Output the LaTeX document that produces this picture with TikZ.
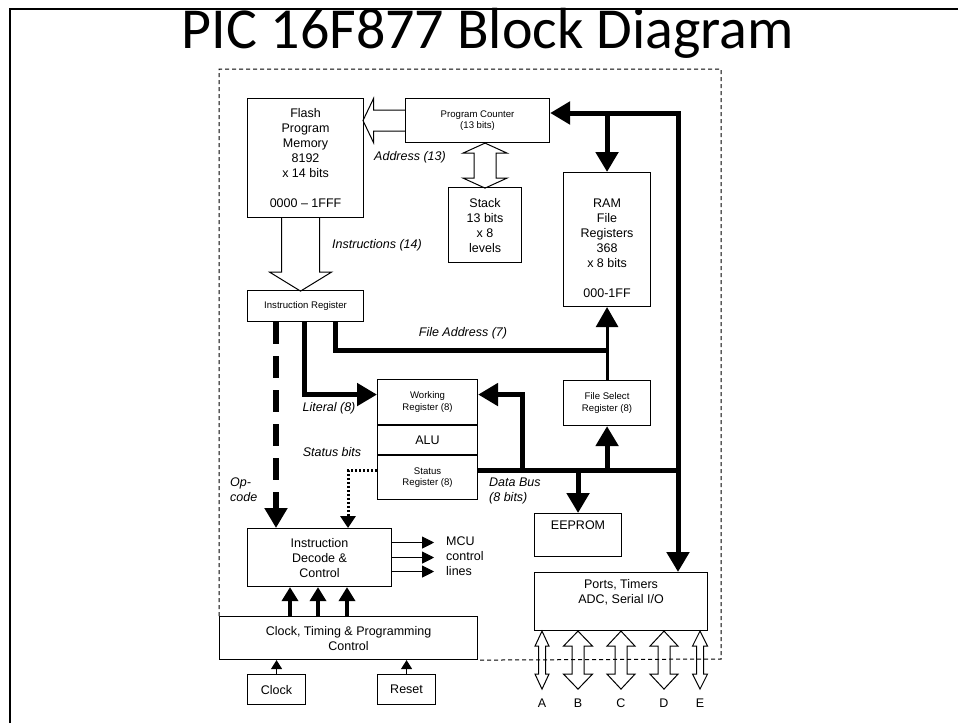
\documentclass[tikz,border=0pt]{standalone}
\usepackage{fontspec}
\setmainfont{Liberation Sans}
\newfontfamily\titlefont{Carlito}
\usetikzlibrary{arrows.meta,positioning,calc}

% hollow two-headed block arrow, drawn downwards from its top tip
\newcommand\dblarrow[5]{%
  \pgfmathsetmacro\arrshaft{#2-2*#5}%
  \pgfmathsetmacro\arrshoulder{#4-#3}%
  \draw[hollow] #1 -- ++(#4,#5) -- ++(-\arrshoulder,0) -- ++(0,\arrshaft)
    -- ++(\arrshoulder,0) -- ++(-#4,#5) -- ++(-#4,-#5) -- ++(\arrshoulder,0)
    -- ++(0,-\arrshaft) -- ++(-\arrshoulder,0) -- cycle;}

\begin{document}
\begin{tikzpicture}[x=1pt,y=-1pt,font=\fontsize{12.5}{15}\selectfont,
  box/.style={draw,line width=1.1pt,align=center,inner sep=0pt,anchor=north west},
  small/.style={font=\fontsize{9.6}{11.5}\selectfont},
  lbl/.style={font=\fontsize{12.5}{15}\selectfont\itshape,align=left,inner sep=0pt},
  hollow/.style={draw,line width=1pt,line join=miter},
  bus/.style={line width=5pt,>={Triangle[length=20pt,width=22pt]}},
  ctrl/.style={line width=4pt,-{Triangle[length=14pt,width=16pt]}},
  mcu/.style={line width=0.9pt,-{Triangle[length=12pt,width=12pt]}},
  pin/.style={line width=1.2pt,-{Triangle[length=9pt,width=11pt]}},
  boundary/.style={line width=1pt,dash pattern=on 4pt off 3pt}]
\useasboundingbox (0,0) rectangle (958,723);
\draw[line width=2.5pt] (10,723) -- (10,9) -- (958,9);
\node[anchor=base,font=\titlefont\fontsize{58}{58}\selectfont] (title) at (488,48)
  {PIC 16F877 Block Diagram};

% blocks
\node[box,minimum width=116,minimum height=119] (flash) at (247,98)
  {Flash\\Program\\Memory\\8192\\x 14 bits\\[15pt]0000 -- 1FFF};
\node[box,small,minimum width=144,minimum height=44] (pc) at (405,98)
  {Program Counter\\(13 bits)};
\node[box,minimum width=73,minimum height=75] (stack) at (448,187)
  {Stack\\13 bits\\x 8\\levels};
\node[box,minimum width=87,minimum height=134] (ram) at (563,172)
  {\strut\\RAM\\File\\Registers\\368\\x 8 bits\\[15pt]000-1FF};
\node[box,small,minimum width=116,minimum height=31] (ir) at (247,290)
  {Instruction Register};
\node[box,small,minimum width=100,minimum height=45] (wreg) at (377,379)
  {Working\\Register (8)};
\node[box,minimum width=100,minimum height=29,below=0pt of wreg] (alu) {ALU};
\node[box,small,minimum width=100,minimum height=44,below=0pt of alu] (status)
  {Status\\Register (8)};
\node[box,small,minimum width=87,minimum height=45] (fsr) at (563,380)
  {File Select\\Register (8)};
\node[box,minimum width=87,minimum height=43] (eeprom) at (534,513)
  {EEPROM\\\strut};
\node[box,minimum width=144,minimum height=58] (decode) at (247,528)
  {Instruction\\Decode \&\\Control};
\node[box,minimum width=173,minimum height=58] (ports) at (534,572)
  {Ports, Timers\\ADC, Serial I/O\\\strut};
\node[box,minimum width=258,minimum height=43] (timing) at (219,616)
  {Clock, Timing \& Programming\\Control};
\node[box,minimum width=58,minimum height=30] (clock) at (247,674) {Clock};
\node[box,minimum width=58,minimum height=30] (reset) at (377,674) {Reset};

% labels
\node[lbl] (addr) at (410,157) {Address (13)};
\node[lbl] (instr) at (377,245) {Instructions (14)};
\node[lbl] (faddr) at (463,333) {File Address (7)};
\node[lbl] (lit) at (329,408) {Literal (8)};
\node[lbl] (sbits) at (332,452) {Status bits};
\node[lbl,anchor=west] (dbus) at (489,491) {Data Bus\\(8 bits)};
\node[lbl,anchor=west] (opc) at (230,490) {Op-\\code};
\node[align=left,anchor=west,inner sep=0pt] (mcuout) at (446,556)
  {MCU\\control\\lines};

% block arrows
\draw[hollow] ([yshift=10.5pt]pc.west) -- ++(-31.5,0) -- ++(0,-11.5)
  -- ++(-10.5,22) -- ++(10.5,22) -- ++(0,-11.5) -- ++(31.5,0);
\draw[hollow] ([xshift=-24pt]flash.south) -- ++(0,54) -- ++(-12,0)
  -- ++(31,19) -- ++(31,-19) -- ++(-12,0) -- ++(0,-54);
\dblarrow{(stack.north |- pc.south)}{45}{11}{22}{10}
\foreach \dx/\sw/\hw/\nm in {8/3.5/7/A,44/6/14.5/B,87/6/14/C,130/6/14/D,166/3.5/7.5/E}{
  \dblarrow{($(ports.south west)+(\dx,0)$)}{58}{\sw}{\hw}{15}
  \node (port\nm) at ($(ports.south west)+(\dx,72)$) {\nm};
}

% buses
\coordinate (bustop) at (678,113);
\coordinate (dbl) at ([yshift=7pt]status.east);
\coordinate (wtap) at (522,468);
\coordinate (fajoin) at (ram.south |- 0,350);
\draw[bus,<->,line join=miter] (bustop -| pc.east) -- (bustop) -- (ports.north -| bustop);
\draw[bus,->] (bustop -| ram.north) -- (ram.north);
\draw[bus] (dbl) -- (bustop |- dbl);
\draw[bus,->] (wtap) |- ([yshift=7.5pt]wreg.east);
\draw[bus,->] (fsr.south |- dbl) -- (fsr.south);
\draw[bus,->] (eeprom.north |- dbl) -- (eeprom.north);
\draw[bus,->,line width=3pt] (fsr.north) -- (ram.south);
\draw[bus] ([xshift=-29pt]ir.south east) |- (fajoin);
\draw[bus,->] ([xshift=-1pt]ir.south) |- ([yshift=7.5pt]wreg.west);
\draw[bus,->,line width=6pt,dash pattern=on 22pt off 12pt]
  ([xshift=29pt]ir.south west) -- ([xshift=29pt]decode.north west);
\draw[line width=3pt,dash pattern=on 2.5pt off 1.5pt,-{Triangle[length=12pt,width=15pt]}]
  ([yshift=7pt]status.west) -| ([xshift=101pt]decode.north west);

% control
\foreach \dx in {43,71,100}
  \draw[ctrl] ($(decode.south west)+(\dx,30)$) -- ($(decode.south west)+(\dx,0)$);
\foreach \dy in {15,0,-14}
  \draw[mcu] ([yshift=\dy pt]decode.east) -- ++(42,0);
\draw[pin] (clock.north) -- (clock.north |- timing.south);
\draw[pin] (reset.north) -- (reset.north |- timing.south);

\draw[boundary] (timing.north west) -- (219,69) -- (721,69) -- (721,659) -- (timing.south east);
\end{tikzpicture}
\end{document}
